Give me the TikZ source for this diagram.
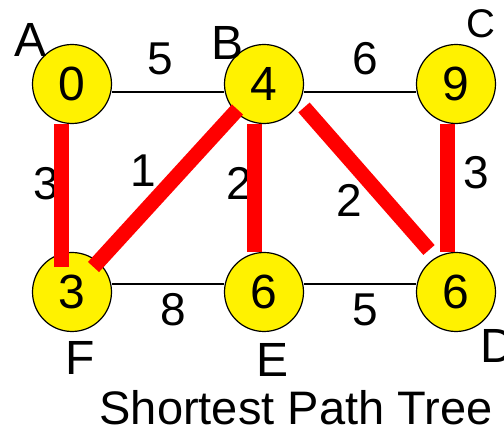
\documentclass[tikz,border=0pt]{standalone}
\usepackage{fontspec}
\setmainfont{Liberation Sans}
\usetikzlibrary{calc}
\begin{document}
\begin{tikzpicture}[x=1pt,y=-1pt,
    sptNode/.style={circle,draw=black,line width=1.2pt,fill=yellow,minimum size=79pt,inner sep=0pt,font=\fontsize{48}{48}\selectfont},
    sptName/.style={inner sep=0pt,font=\fontsize{48}{48}\selectfont},
    sptWeight/.style={inner sep=0pt,font=\fontsize{46}{46}\selectfont},
    sptEdge/.style={line width=1.2pt},
    sptTree/.style={line width=15pt,red},
]
\useasboundingbox (0,0) rectangle (504,438);
% Vertices with distances
\node[sptNode] (A) at (72,84) {0};
\node[sptNode] (B) at (264,84) {4};
\node[sptNode] (C) at (456,84) {9};
\node[sptNode] (F) at (72,292) {3};
\node[sptNode] (E) at (264,292) {6};
\node[sptNode] (D) at (456,292) {6};
% Vertex names
\node[sptName] (nA) at (31,40) {A};
\node[sptName] (nB) at (227.5,42.5) {B};
\node[sptName,font=\fontsize{40}{40}\selectfont] (nC) at (481,24) {C};
\node[sptName] (nF) at (80,357.5) {F};
\node[sptName] (nE) at (272.5,359.5) {E};
\node[sptName] (nD) at (498,345.5) {D};
% Graph edges
\draw[sptEdge] ($(A.east)+(0,8)$) -- ($(B.west)+(0,8)$);
\draw[sptEdge] ($(B.east)+(0,8)$) -- ($(C.west)+(0,8)$);
\draw[sptEdge] ($(F.east)+(0,-8)$) -- ($(E.west)+(0,-8)$);
\draw[sptEdge] ($(E.east)+(0,-8)$) -- ($(D.west)+(0,-8)$);
% Weights
\node[sptWeight] (wAB) at (160,58.5) {5};
\node[sptWeight] (wBC) at (365,58.5) {6};
\node[sptWeight] (wAF) at (46,183.5) {3};
\node[sptWeight] (wBF) at (143,171) {1};
\node[sptWeight] (wBE) at (239,183.5) {2};
\node[sptWeight] (wBD) at (349.5,200) {2};
\node[sptWeight] (wCD) at (476.5,172.5) {3};
\node[sptWeight] (wFE) at (173,310) {8};
\node[sptWeight] (wED) at (365,310) {5};
% Tree edges
\draw[sptTree] ($(A.center)+(-11,40)$) -- ($(F.center)+(-11,-25)$);
\draw[sptTree] ($(B.center)+(-26.5,25.5)$) -- ($(F.center)+(21.5,-25)$);
\draw[sptTree] ($(B.center)+(-10,40)$) -- ($(E.center)+(-10,-40)$);
\draw[sptTree] ($(B.center)+(40,23.5)$) -- ($(D.center)+(-27,-42)$);
\draw[sptTree] ($(C.center)+(-9,40)$) -- ($(D.center)+(-9,-40)$);
% Caption
\node[sptName,font=\fontsize{47}{47}\selectfont] (title) at (296,408) {Shortest Path Tree};
\end{tikzpicture}
\end{document}
